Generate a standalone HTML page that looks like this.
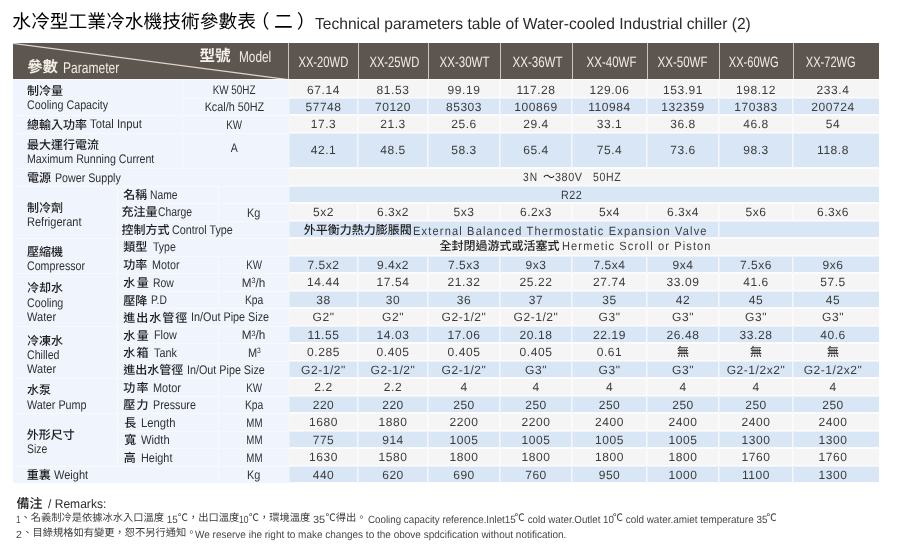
<!DOCTYPE html>
<html lang="zh-Hant">
<head>
<meta charset="utf-8">
<title>水冷型工業冷水機技術參數表（二） Technical parameters table of Water-cooled Industrial chiller (2)</title>
<style>
html,body{margin:0;padding:0;background:#fff;}
body{width:900px;height:551px;overflow:hidden;font-family:"Liberation Sans","Noto Sans CJK TC",sans-serif;color:#3a3a3a;text-rendering:geometricPrecision;}
#page{position:relative;width:900px;height:551px;overflow:hidden;background:#fff;will-change:transform;}
.cj{display:inline-block;position:relative;vertical-align:-0.12em;line-height:1;overflow:visible;font-family:"Liberation Sans","Noto Sans CJK TC",sans-serif;}
.cj .tx{position:absolute;left:0;top:0.03em;width:100%;height:100%;color:inherit;white-space:nowrap;overflow:visible;line-height:1;}
.en{display:inline-block;white-space:pre;}
.gp{display:inline-block;}
sup{font-size:62%;vertical-align:0;position:relative;top:-0.42em;line-height:0;}
.title{position:absolute;left:12.2px;top:12.4px;margin:0;font-weight:normal;font-size:16px;line-height:22px;white-space:nowrap;color:#2a2a2a;}
.title .cj{color:#000;}
table.spec{position:absolute;left:13px;top:43px;width:866px;border-collapse:separate;border-spacing:0;table-layout:fixed;}
td,th{padding:0;margin:0;font-weight:normal;text-align:left;vertical-align:middle;overflow:visible;white-space:nowrap;position:relative;box-sizing:border-box;}
tr.hd{height:36px;}
th{background:#5d5650;color:#f1ebe4;height:36px;}
th.hx{text-align:center;border-left:1px solid #cbc3bb;font-size:15px;}
th.hx:nth-child(2){border-left:none;}
th.h0{border-right:1px solid #cbc3bb;}
th.hx .en{position:relative;top:1px;}
th.h0 .diag{position:absolute;left:0;top:0;}
th.h0 .hp{position:absolute;left:14.2px;top:16.1px;line-height:18px;}
th.h0 .hm{position:absolute;left:186.6px;top:5.4px;line-height:18px;}
th .cj{color:#f4efe9;font-weight:bold;}
td.lb,td.sb,td.un{background:#eff4fd;color:#303030;}
td.lb .cj,td.sb .cj,.mx .cj{color:#1c1c1c;font-weight:500;}
td.d .cj{font-weight:500;}
td.lb,td.sb{border-top:1px solid #f6f9fe;}
td.sb{border-left:1px solid #f8fafe;}
td.un{border-left:1px solid #f6f9fe;border-top:1px solid #f6f9fe;}
td.d{text-align:center;font-size:12px;letter-spacing:0.55px;color:#3c3c3c;}
td.d .cj{letter-spacing:0;}
tr.w td.d{background:#f5f5f5;border-top:1px solid #fdfdfd;border-bottom:1px solid #fcfcfc;border-left:1px solid #f9f9f9;border-right:1px solid #fcfcfc;}
tr.b td.d{background:#d9e6f6;border-top:1px solid #eef3fa;border-bottom:1px solid #fafcfe;border-left:1px solid #e8eff9;border-right:1px solid #f3f7fc;}
td.d.sp{border-left-color:transparent;}
tbody tr td.d:last-child{border-right:none;}
td.d:last-child:not(.sp){padding-right:7px;}
.l2{position:absolute;font-size:12.5px;}
.l2 .a{height:12px;line-height:0;}
.l2 .a .cj{display:block;vertical-align:top;}
.l2 .b{height:14.2px;line-height:14.2px;}
.l2 .a + .b{margin-top:1.5px;}
.l1{position:absolute;font-size:12.5px;line-height:14px;height:14px;}
.l1 .lo{position:relative;top:-0.4px;}
.u{position:relative;text-align:center;font-size:12.5px;line-height:14px;height:14px;}
.n{position:relative;line-height:14px;height:14px;}
.n.mx{text-align:left;letter-spacing:0;}
.notes{color:#444;}
.rm{position:absolute;left:16.4px;top:496.4px;line-height:16px;height:16px;font-size:12.5px;color:#2e2e2e;white-space:nowrap;}
.rm .cj{color:#1a1a1a;font-weight:500;}
.nl{position:absolute;left:16.3px;margin:0;font-size:10.5px;line-height:14px;height:14px;white-space:nowrap;color:#474747;}
.nl .cj{color:#3a3a3a;}
.nl .ne{position:relative;top:0.5px;}

</style>
</head>
<body>
<div id="page">
<h1 class="title"><span class="cj" style="width:244.59px;height:18.75px;font-size:18.75px;"><span class="tx">水冷型工業冷水機技術參數表</span></span><span class="cj" style="width:18.75px;height:18.75px;font-size:18.75px;margin-left:-6px"><span class="tx">（</span></span><span class="cj" style="width:18.75px;height:18.75px;font-size:18.75px;margin-left:4.4px"><span class="tx">二</span></span><span class="cj" style="width:18.75px;height:18.75px;font-size:18.75px;margin-left:4.2px;margin-right:-0.65px"><span class="tx">）</span></span><span class="en te" style="font-size:16px;transform:scaleX(0.9736);transform-origin:left center;margin-right:-11.81px;">Technical parameters table of Water-cooled Industrial chiller (2)</span></h1>
<table class="spec">
<colgroup><col style="width:104px"><col style="width:65px"><col style="width:36px"><col style="width:71px"><col style="width:69px"><col style="width:70px"><col style="width:72px"><col style="width:72px"><col style="width:75px"><col style="width:72px"><col style="width:74px"><col style="width:86px"></colgroup>
<thead>
<tr class="hd"><th class="h0" colspan="4"><svg class="diag" width="276" height="36" viewBox="0 0 276 36" aria-hidden="true"><path d="M0 0.4 L275 36.6" stroke="#ded6ce" stroke-width="1.25" fill="none"/></svg><div class="hp"><span class="cj" style="width:30.60px;height:15.3px;font-size:15.3px;"><span class="tx">參數</span></span><span class="gp" style="width:5.50px"></span><span class="en" style="font-size:15.5px;transform:scaleX(0.7766);transform-origin:left center;margin-right:-16.16px;">Parameter</span></div><div class="hm"><span class="cj" style="width:31.00px;height:15.5px;font-size:15.5px;"><span class="tx">型號</span></span><span class="gp" style="width:8.20px"></span><span class="en" style="font-size:15.5px;transform:scaleX(0.7627);transform-origin:left center;margin-right:-10.02px;">Model</span></div></th><th class="hx"><span class="en" style="font-size:15px;transform:scaleX(0.7483);transform-origin:center center;margin-left:-8.39px;margin-right:-8.39px;left:0px;">XX-20WD</span></th><th class="hx"><span class="en" style="font-size:15px;transform:scaleX(0.7483);transform-origin:center center;margin-left:-8.39px;margin-right:-8.39px;left:1.2px;">XX-25WD</span></th><th class="hx"><span class="en" style="font-size:15px;transform:scaleX(0.7675);transform-origin:center center;margin-left:-7.56px;margin-right:-7.56px;left:0px;">XX-30WT</span></th><th class="hx"><span class="en" style="font-size:15px;transform:scaleX(0.7675);transform-origin:center center;margin-left:-7.56px;margin-right:-7.56px;left:0.7px;">XX-36WT</span></th><th class="hx"><span class="en" style="font-size:15px;transform:scaleX(0.7675);transform-origin:center center;margin-left:-7.56px;margin-right:-7.56px;left:1.8px;">XX-40WF</span></th><th class="hx"><span class="en" style="font-size:15px;transform:scaleX(0.7675);transform-origin:center center;margin-left:-7.56px;margin-right:-7.56px;left:-0.8px;">XX-50WF</span></th><th class="hx"><span class="en" style="font-size:15px;transform:scaleX(0.7391);transform-origin:center center;margin-left:-8.81px;margin-right:-8.81px;left:-2.5px;">XX-60WG</span></th><th class="hx"><span class="en" style="font-size:15px;transform:scaleX(0.7391);transform-origin:center center;margin-left:-8.81px;margin-right:-8.81px;left:-5.5px;">XX-72WG</span></th></tr>
</thead>
<tbody>
<tr class="w" style="height:19px"><td class="lb" colspan="2" rowspan="2"><div class="l2" style="left:13.95px;top:4.20px"><div class="a"><span class="cj" style="width:36.20px;height:12px;font-size:12px;"><span class="tx">制冷量</span></span></div><div class="b"><span class="en" style="font-size:12.5px;transform:scaleX(0.8593);transform-origin:left center;margin-right:-13.30px;">Cooling Capacity</span></div></div></td><td class="un" colspan="2"><div class="u" style="left:-1.5px;top:0.5px;"><span class="en" style="font-size:12.5px;transform:scaleX(0.7900);transform-origin:center center;margin-left:-5.69px;margin-right:-5.69px;">KW 50HZ</span></div></td><td class="d"><div class="n" style="top:1px">67.14</div></td><td class="d"><div class="n" style="top:1px">81.53</div></td><td class="d"><div class="n" style="top:1px">99.19</div></td><td class="d"><div class="n" style="top:1px">117.28</div></td><td class="d"><div class="n" style="top:1px">129.06</div></td><td class="d"><div class="n" style="top:1px">153.91</div></td><td class="d"><div class="n" style="top:1px">198.12</div></td><td class="d"><div class="n" style="top:1px">233.4</div></td></tr>
<tr class="b" style="height:17px"><td class="un" colspan="2"><div class="u" style="left:-1.5px;top:0.0px;"><span class="en" style="font-size:12.5px;transform:scaleX(0.8650);transform-origin:center center;margin-left:-4.64px;margin-right:-4.64px;">Kcal/h 50HZ</span></div></td><td class="d"><div class="n" style="top:0.4px">57748</div></td><td class="d"><div class="n" style="top:0.4px">70120</div></td><td class="d"><div class="n" style="top:0.4px">85303</div></td><td class="d"><div class="n" style="top:0.4px">100869</div></td><td class="d"><div class="n" style="top:0.4px">110984</div></td><td class="d"><div class="n" style="top:0.4px">132359</div></td><td class="d"><div class="n" style="top:0.4px">170383</div></td><td class="d"><div class="n" style="top:0.4px">200724</div></td></tr>
<tr class="w" style="height:18px"><td class="lb" colspan="2"><div class="l1" style="left:13.95px;top:1.73px"><span class="cj" style="width:60.20px;height:12px;font-size:12px;"><span class="tx">總輸入功率</span></span><span class="gp" style="width:2.65px"></span><span class="en lo" style="font-size:12.5px;transform:scaleX(0.9015);transform-origin:left center;margin-right:-5.68px;">Total Input</span></div></td><td class="un" colspan="2"><div class="u" style="left:-1.5px;top:0.0px;"><span class="en" style="font-size:12.5px;transform:scaleX(0.7847);transform-origin:center center;margin-left:-2.17px;margin-right:-2.17px;">KW</span></div></td><td class="d"><div class="n" style="top:-0.4px">17.3</div></td><td class="d"><div class="n" style="top:-0.4px">21.3</div></td><td class="d"><div class="n" style="top:-0.4px">25.6</div></td><td class="d"><div class="n" style="top:-0.4px">29.4</div></td><td class="d"><div class="n" style="top:-0.4px">33.1</div></td><td class="d"><div class="n" style="top:-0.4px">36.8</div></td><td class="d"><div class="n" style="top:-0.4px">46.8</div></td><td class="d"><div class="n" style="top:-0.4px">54</div></td></tr>
<tr class="b" style="height:35px"><td class="lb" colspan="2"><div class="l2" style="left:13.95px;top:4.80px"><div class="a"><span class="cj" style="width:72.50px;height:12px;font-size:12px;"><span class="tx">最大運行電流</span></span></div><div class="b"><span class="en" style="font-size:12.5px;transform:scaleX(0.8523);transform-origin:left center;margin-right:-22.06px;">Maximum Running Current</span></div></div></td><td class="un" colspan="2"><div class="u" style="left:-2px;top:-3px;"><span class="en" style="font-size:12.5px;transform:scaleX(0.8395);transform-origin:center center;margin-left:-0.67px;margin-right:-0.67px;">A</span></div></td><td class="d"><div class="n" style="top:-0.6px">42.1</div></td><td class="d"><div class="n" style="top:-0.6px">48.5</div></td><td class="d"><div class="n" style="top:-0.6px">58.3</div></td><td class="d"><div class="n" style="top:-0.6px">65.4</div></td><td class="d"><div class="n" style="top:-0.6px">75.4</div></td><td class="d"><div class="n" style="top:-0.6px">73.6</div></td><td class="d"><div class="n" style="top:-0.6px">98.3</div></td><td class="d"><div class="n" style="top:-0.6px">118.8</div></td></tr>
<tr class="w" style="height:18px"><td class="lb" colspan="4"><div class="l1" style="left:13.95px;top:2.23px"><span class="cj" style="width:24.30px;height:12px;font-size:12px;"><span class="tx">電源</span></span><span class="gp" style="width:3.85px"></span><span class="en lo" style="font-size:12.5px;transform:scaleX(0.8531);transform-origin:left center;margin-right:-11.33px;">Power Supply</span></div></td><td class="d sp" colspan="8"><div class="n mx" style="padding-left:232.50px"><span class="en " style="font-size:12px;letter-spacing:1.366px;transform:scaleX(0.8500);transform-origin:left center;margin-right:-3.87px;">3N</span><span class="gp" style="width:6.20px"></span><span class="cj" style="width:12.00px;height:12px;font-size:12px;font-weight:normal;"><span class="tx">～</span></span><span class="gp" style="width:0.00px"></span><span class="en " style="font-size:12px;letter-spacing:0.658px;transform:scaleX(0.9000);transform-origin:left center;margin-right:-3.66px;">380V</span><span class="gp" style="width:10.80px"></span><span class="en " style="font-size:12px;letter-spacing:0.749px;transform:scaleX(0.8800);transform-origin:left center;margin-right:-4.54px;">50HZ</span></div></td></tr>
<tr class="b" style="height:17px"><td class="lb g" rowspan="3"><div class="l2" style="left:13.95px;top:14.50px"><div class="a"><span class="cj" style="width:36.50px;height:12px;font-size:12px;"><span class="tx">制冷劑</span></span></div><div class="b"><span class="en" style="font-size:12.5px;transform:scaleX(0.8814);transform-origin:left center;margin-right:-7.34px;">Refrigerant</span></div></div></td><td class="sb" colspan="2"><div class="l1" style="left:5.15px;top:1.03px"><span class="cj" style="width:24.30px;height:12px;font-size:12px;"><span class="tx">名稱</span></span><span class="gp" style="width:2.65px"></span><span class="en lo" style="font-size:12.5px;transform:scaleX(0.8247);transform-origin:left center;margin-right:-5.84px;">Name</span></div></td><td class="un"></td><td class="d sp" colspan="8"><div class="n mx" style="padding-left:271.10px"><span class="en " style="font-size:12px;letter-spacing:0.548px;transform:scaleX(0.9000);transform-origin:left center;margin-right:-2.86px;">R22</span></div></td></tr>
<tr class="w" style="height:18px"><td class="sb" colspan="2"><div class="l1" style="left:3.45px;top:1.63px"><span class="cj" style="width:36.50px;height:12px;font-size:12px;"><span class="tx">充注量</span></span><span class="gp" style="width:-0.65px"></span><span class="en lo" style="font-size:12.5px;transform:scaleX(0.8317);transform-origin:left center;margin-right:-6.90px;">Charge</span></div></td><td class="un"><div class="u" style=""><span class="en" style="font-size:12.5px;transform:scaleX(0.8698);transform-origin:center center;margin-left:-1.00px;margin-right:-1.00px;">Kg</span></div></td><td class="d"><div class="n">5x2</div></td><td class="d"><div class="n">6.3x2</div></td><td class="d"><div class="n">5x3</div></td><td class="d"><div class="n">6.2x3</div></td><td class="d"><div class="n">5x4</div></td><td class="d"><div class="n">6.3x4</div></td><td class="d"><div class="n">5x6</div></td><td class="d"><div class="n">6.3x6</div></td></tr>
<tr class="b" style="height:17px"><td class="sb" colspan="3"><div class="l1" style="left:3.45px;top:1.63px"><span class="cj" style="width:48.20px;height:12px;font-size:12px;"><span class="tx">控制方式</span></span><span class="gp" style="width:2.15px"></span><span class="en lo" style="font-size:12.5px;transform:scaleX(0.8606);transform-origin:left center;margin-right:-9.84px;">Control Type</span></div></td><td class="d sp" colspan="6"><div class="n mx" style="top:1px;padding-left:13.75px"><span class="cj" style="width:106.40px;height:12px;font-size:12px;"><span class="tx">外平衡力熱力膨脹閥</span></span><span class="gp" style="width:3.30px"></span><span class="en " style="font-size:12px;letter-spacing:1.274px;transform:scaleX(0.9200);transform-origin:left center;margin-right:-26.80px;">External Balanced Thermostatic Expansion Valve</span></div></td><td class="d sp" colspan="2"></td></tr>
<tr class="w" style="height:18px"><td class="lb g" rowspan="2"><div class="l2" style="left:13.95px;top:6.30px"><div class="a"><span class="cj" style="width:36.50px;height:12px;font-size:12px;"><span class="tx">壓縮機</span></span></div><div class="b"><span class="en" style="font-size:12.5px;transform:scaleX(0.8520);transform-origin:left center;margin-right:-10.08px;">Compressor</span></div></div></td><td class="sb" colspan="3"><div class="l1" style="left:5.15px;top:0.93px"><span class="cj" style="width:24.80px;height:12px;font-size:12px;"><span class="tx">類型</span></span><span class="gp" style="width:4.65px"></span><span class="en lo" style="font-size:12.5px;transform:scaleX(0.8413);transform-origin:left center;margin-right:-4.30px;">Type</span></div></td><td class="d sp" colspan="8"><div class="n mx" style="top:-0.7px;padding-left:149.45px"><span class="cj" style="width:118.20px;height:12px;font-size:12px;"><span class="tx">全封閉過游式或活塞式</span></span><span class="gp" style="width:4.80px"></span><span class="en " style="font-size:12px;letter-spacing:1.224px;transform:scaleX(0.9200);transform-origin:left center;margin-right:-14.14px;">Hermetic Scroll or Piston</span></div></td></tr>
<tr class="b" style="height:17px"><td class="sb" colspan="2"><div class="l1" style="left:5.15px;top:1.33px"><span class="cj" style="width:24.30px;height:12px;font-size:12px;"><span class="tx">功率</span></span><span class="gp" style="width:4.35px"></span><span class="en lo" style="font-size:12.5px;transform:scaleX(0.8606);transform-origin:left center;margin-right:-4.45px;">Motor</span></div></td><td class="un"><div class="u" style=""><span class="en" style="font-size:12.5px;transform:scaleX(0.7847);transform-origin:center center;margin-left:-2.17px;margin-right:-2.17px;">KW</span></div></td><td class="d"><div class="n">7.5x2</div></td><td class="d"><div class="n">9.4x2</div></td><td class="d"><div class="n">7.5x3</div></td><td class="d"><div class="n">9x3</div></td><td class="d"><div class="n">7.5x4</div></td><td class="d"><div class="n">9x4</div></td><td class="d"><div class="n">7.5x6</div></td><td class="d"><div class="n">9x6</div></td></tr>
<tr class="w" style="height:18px"><td class="lb g" rowspan="3"><div class="l2" style="left:13.95px;top:8.00px"><div class="a"><span class="cj" style="width:36.00px;height:12px;font-size:12px;"><span class="tx">冷却水</span></span></div><div class="b"><span class="en" style="font-size:12.5px;transform:scaleX(0.8563);transform-origin:left center;margin-right:-6.09px;">Cooling</span></div><div class="b"><span class="en" style="font-size:12.5px;transform:scaleX(0.8852);transform-origin:left center;margin-right:-3.77px;">Water</span></div></div></td><td class="sb" colspan="2"><div class="l1" style="left:5.15px;top:2.13px"><span class="cj" style="width:25.60px;height:12px;font-size:12px;letter-spacing:1.6px;"><span class="tx">水量</span></span><span class="gp" style="width:4.75px"></span><span class="en lo" style="font-size:12.5px;transform:scaleX(0.8318);transform-origin:left center;margin-right:-4.21px;">Row</span></div></td><td class="un"><div class="u" style=""><span class="en" style="font-size:12.5px;transform:scaleX(0.9384);transform-origin:center center;margin-left:-0.77px;margin-right:-0.77px;">M<sup>3</sup>/h</span></div></td><td class="d"><div class="n">14.44</div></td><td class="d"><div class="n">17.54</div></td><td class="d"><div class="n">21.32</div></td><td class="d"><div class="n">25.22</div></td><td class="d"><div class="n">27.74</div></td><td class="d"><div class="n">33.09</div></td><td class="d"><div class="n">41.6</div></td><td class="d"><div class="n">57.5</div></td></tr>
<tr class="b" style="height:17px"><td class="sb" colspan="2"><div class="l1" style="left:5.15px;top:1.83px"><span class="cj" style="width:24.30px;height:12px;font-size:12px;"><span class="tx">壓降</span></span><span class="gp" style="width:3.85px"></span><span class="en lo" style="font-size:12.5px;transform:scaleX(0.8218);transform-origin:left center;margin-right:-3.43px;">P.D</span></div></td><td class="un"><div class="u" style=""><span class="en" style="font-size:12.5px;transform:scaleX(0.8228);transform-origin:center center;margin-left:-1.97px;margin-right:-1.97px;">Kpa</span></div></td><td class="d"><div class="n">38</div></td><td class="d"><div class="n">30</div></td><td class="d"><div class="n">36</div></td><td class="d"><div class="n">37</div></td><td class="d"><div class="n">35</div></td><td class="d"><div class="n">42</div></td><td class="d"><div class="n">45</div></td><td class="d"><div class="n">45</div></td></tr>
<tr class="w" style="height:18px"><td class="sb" colspan="3"><div class="l1" style="left:5.15px;top:1.83px"><span class="cj" style="width:64.00px;height:12px;font-size:12px;letter-spacing:1px;"><span class="tx">進出水管徑</span></span><span class="gp" style="width:3.85px"></span><span class="en lo" style="font-size:12.5px;transform:scaleX(0.8646);transform-origin:left center;margin-right:-12.23px;">In/Out Pipe Size</span></div></td><td class="d"><div class="n">G2&quot;</div></td><td class="d"><div class="n">G2&quot;</div></td><td class="d"><div class="n">G2-1/2&quot;</div></td><td class="d"><div class="n">G2-1/2&quot;</div></td><td class="d"><div class="n">G3&quot;</div></td><td class="d"><div class="n">G3&quot;</div></td><td class="d"><div class="n">G3&quot;</div></td><td class="d"><div class="n">G3&quot;</div></td></tr>
<tr class="b" style="height:17px"><td class="lb g" rowspan="3"><div class="l2" style="left:13.95px;top:7.50px"><div class="a"><span class="cj" style="width:36.50px;height:12px;font-size:12px;"><span class="tx">冷凍水</span></span></div><div class="b"><span class="en" style="font-size:12.5px;transform:scaleX(0.8504);transform-origin:left center;margin-right:-5.72px;">Chilled</span></div><div class="b"><span class="en" style="font-size:12.5px;transform:scaleX(0.8852);transform-origin:left center;margin-right:-3.77px;">Water</span></div></div></td><td class="sb" colspan="2"><div class="l1" style="left:5.15px;top:1.83px"><span class="cj" style="width:25.60px;height:12px;font-size:12px;letter-spacing:1.6px;"><span class="tx">水量</span></span><span class="gp" style="width:5.25px"></span><span class="en lo" style="font-size:12.5px;transform:scaleX(0.8639);transform-origin:left center;margin-right:-3.59px;">Flow</span></div></td><td class="un"><div class="u" style=""><span class="en" style="font-size:12.5px;transform:scaleX(0.9384);transform-origin:center center;margin-left:-0.77px;margin-right:-0.77px;">M<sup>3</sup>/h</span></div></td><td class="d"><div class="n">11.55</div></td><td class="d"><div class="n">14.03</div></td><td class="d"><div class="n">17.06</div></td><td class="d"><div class="n">20.18</div></td><td class="d"><div class="n">22.19</div></td><td class="d"><div class="n">26.48</div></td><td class="d"><div class="n">33.28</div></td><td class="d"><div class="n">40.6</div></td></tr>
<tr class="w" style="height:18px"><td class="sb" colspan="2"><div class="l1" style="left:5.15px;top:2.13px"><span class="cj" style="width:25.30px;height:12px;font-size:12px;letter-spacing:1.3px;"><span class="tx">水箱</span></span><span class="gp" style="width:5.55px"></span><span class="en lo" style="font-size:12.5px;transform:scaleX(0.8635);transform-origin:left center;margin-right:-3.60px;">Tank</span></div></td><td class="un"><div class="u" style=""><span class="en" style="font-size:12.5px;transform:scaleX(0.8762);transform-origin:center center;margin-left:-0.91px;margin-right:-0.91px;">M<sup>3</sup></span></div></td><td class="d"><div class="n">0.285</div></td><td class="d"><div class="n">0.405</div></td><td class="d"><div class="n">0.405</div></td><td class="d"><div class="n">0.405</div></td><td class="d"><div class="n">0.61</div></td><td class="d"><div class="n"><span class="cj" style="width:12.00px;height:12px;font-size:12px;"><span class="tx">無</span></span></div></td><td class="d"><div class="n"><span class="cj" style="width:12.00px;height:12px;font-size:12px;"><span class="tx">無</span></span></div></td><td class="d"><div class="n"><span class="cj" style="width:12.00px;height:12px;font-size:12px;"><span class="tx">無</span></span></div></td></tr>
<tr class="b" style="height:17px"><td class="sb" colspan="3"><div class="l1" style="left:5.15px;top:1.33px"><span class="cj" style="width:60.30px;height:12px;font-size:12px;"><span class="tx">進出水管徑</span></span><span class="gp" style="width:3.85px"></span><span class="en lo" style="font-size:12.5px;transform:scaleX(0.8613);transform-origin:left center;margin-right:-12.53px;">In/Out Pipe Size</span></div></td><td class="d"><div class="n">G2-1/2&quot;</div></td><td class="d"><div class="n">G2-1/2&quot;</div></td><td class="d"><div class="n">G2-1/2&quot;</div></td><td class="d"><div class="n">G3&quot;</div></td><td class="d"><div class="n">G3&quot;</div></td><td class="d"><div class="n">G3&quot;</div></td><td class="d"><div class="n">G2-1/2x2&quot;</div></td><td class="d"><div class="n">G2-1/2x2&quot;</div></td></tr>
<tr class="w" style="height:18px"><td class="lb g" rowspan="2"><div class="l2" style="left:13.95px;top:5.00px"><div class="a"><span class="cj" style="width:24.30px;height:12px;font-size:12px;"><span class="tx">水泵</span></span></div><div class="b"><span class="en" style="font-size:12.5px;transform:scaleX(0.8637);transform-origin:left center;margin-right:-9.40px;">Water Pump</span></div></div></td><td class="sb" colspan="2"><div class="l1" style="left:5.15px;top:1.93px"><span class="cj" style="width:25.30px;height:12px;font-size:12px;letter-spacing:1.3px;"><span class="tx">功率</span></span><span class="gp" style="width:4.55px"></span><span class="en lo" style="font-size:12.5px;transform:scaleX(0.8732);transform-origin:left center;margin-right:-4.05px;">Motor</span></div></td><td class="un"><div class="u" style=""><span class="en" style="font-size:12.5px;transform:scaleX(0.7847);transform-origin:center center;margin-left:-2.17px;margin-right:-2.17px;">KW</span></div></td><td class="d"><div class="n">2.2</div></td><td class="d"><div class="n">2.2</div></td><td class="d"><div class="n">4</div></td><td class="d"><div class="n">4</div></td><td class="d"><div class="n">4</div></td><td class="d"><div class="n">4</div></td><td class="d"><div class="n">4</div></td><td class="d"><div class="n">4</div></td></tr>
<tr class="b" style="height:17px"><td class="sb" colspan="2"><div class="l1" style="left:5.15px;top:1.33px"><span class="cj" style="width:25.30px;height:12px;font-size:12px;letter-spacing:1.3px;"><span class="tx">壓力</span></span><span class="gp" style="width:4.55px"></span><span class="en lo" style="font-size:12.5px;transform:scaleX(0.8576);transform-origin:left center;margin-right:-7.12px;">Pressure</span></div></td><td class="un"><div class="u" style=""><span class="en" style="font-size:12.5px;transform:scaleX(0.8228);transform-origin:center center;margin-left:-1.97px;margin-right:-1.97px;">Kpa</span></div></td><td class="d"><div class="n">220</div></td><td class="d"><div class="n">220</div></td><td class="d"><div class="n">250</div></td><td class="d"><div class="n">250</div></td><td class="d"><div class="n">250</div></td><td class="d"><div class="n">250</div></td><td class="d"><div class="n">250</div></td><td class="d"><div class="n">250</div></td></tr>
<tr class="w" style="height:18px"><td class="lb g" rowspan="3"><div class="l2" style="left:13.75px;top:14.80px"><div class="a"><span class="cj" style="width:47.70px;height:12px;font-size:12px;"><span class="tx">外形尺寸</span></span></div><div class="b"><span class="en" style="font-size:12.5px;transform:scaleX(0.8307);transform-origin:left center;margin-right:-4.12px;">Size</span></div></div></td><td class="sb" colspan="2"><div class="l1" style="left:6.15px;top:2.13px"><span class="cj" style="width:12.00px;height:12px;font-size:12px;"><span class="tx">長</span></span><span class="gp" style="width:4.45px"></span><span class="en lo" style="font-size:12.5px;transform:scaleX(0.9024);transform-origin:left center;margin-right:-3.73px;">Length</span></div></td><td class="un"><div class="u" style=""><span class="en" style="font-size:12.5px;transform:scaleX(0.7731);transform-origin:center center;margin-left:-2.36px;margin-right:-2.36px;">MM</span></div></td><td class="d"><div class="n">1680</div></td><td class="d"><div class="n">1880</div></td><td class="d"><div class="n">2200</div></td><td class="d"><div class="n">2200</div></td><td class="d"><div class="n">2400</div></td><td class="d"><div class="n">2400</div></td><td class="d"><div class="n">2400</div></td><td class="d"><div class="n">2400</div></td></tr>
<tr class="b" style="height:17px"><td class="sb" colspan="2"><div class="l1" style="left:6.15px;top:1.33px"><span class="cj" style="width:12.00px;height:12px;font-size:12px;"><span class="tx">寬</span></span><span class="gp" style="width:4.45px"></span><span class="en lo" style="font-size:12.5px;transform:scaleX(0.8982);transform-origin:left center;margin-right:-3.25px;">Width</span></div></td><td class="un"><div class="u" style=""><span class="en" style="font-size:12.5px;transform:scaleX(0.7731);transform-origin:center center;margin-left:-2.36px;margin-right:-2.36px;">MM</span></div></td><td class="d"><div class="n">775</div></td><td class="d"><div class="n">914</div></td><td class="d"><div class="n">1005</div></td><td class="d"><div class="n">1005</div></td><td class="d"><div class="n">1005</div></td><td class="d"><div class="n">1005</div></td><td class="d"><div class="n">1300</div></td><td class="d"><div class="n">1300</div></td></tr>
<tr class="w" style="height:18px"><td class="sb" colspan="2"><div class="l1" style="left:5.75px;top:1.93px"><span class="cj" style="width:12.00px;height:12px;font-size:12px;"><span class="tx">高</span></span><span class="gp" style="width:5.25px"></span><span class="en lo" style="font-size:12.5px;transform:scaleX(0.8690);transform-origin:left center;margin-right:-4.73px;">Height</span></div></td><td class="un"><div class="u" style=""><span class="en" style="font-size:12.5px;transform:scaleX(0.7731);transform-origin:center center;margin-left:-2.36px;margin-right:-2.36px;">MM</span></div></td><td class="d"><div class="n">1630</div></td><td class="d"><div class="n">1580</div></td><td class="d"><div class="n">1800</div></td><td class="d"><div class="n">1800</div></td><td class="d"><div class="n">1800</div></td><td class="d"><div class="n">1800</div></td><td class="d"><div class="n">1760</div></td><td class="d"><div class="n">1760</div></td></tr>
<tr class="b" style="height:17px"><td class="lb" colspan="3"><div class="l1" style="left:13.75px;top:1.43px"><span class="cj" style="width:24.40px;height:12px;font-size:12px;"><span class="tx">重裏</span></span><span class="gp" style="width:3.15px"></span><span class="en lo" style="font-size:12.5px;transform:scaleX(0.8816);transform-origin:left center;margin-right:-4.58px;">Weight</span></div></td><td class="un"><div class="u" style=""><span class="en" style="font-size:12.5px;transform:scaleX(0.8698);transform-origin:center center;margin-left:-1.00px;margin-right:-1.00px;">Kg</span></div></td><td class="d"><div class="n">440</div></td><td class="d"><div class="n">620</div></td><td class="d"><div class="n">690</div></td><td class="d"><div class="n">760</div></td><td class="d"><div class="n">950</div></td><td class="d"><div class="n">1000</div></td><td class="d"><div class="n">1100</div></td><td class="d"><div class="n">1300</div></td></tr>
</tbody>
</table>
<div class="notes">
<div class="rm"><span class="cj" style="width:26.00px;height:13px;font-size:13px;"><span class="tx">備注</span></span><span class="gp" style="width:5.90px"></span><span class="en" style="font-size:12.5px;transform:scaleX(0.9648);transform-origin:left center;margin-right:-2.13px;">/ Remarks:</span></div>
<p class="nl" style="top:512.6px"><span class="en ne" style="font-size:10.5px;transform:scaleX(0.7877);transform-origin:left center;margin-right:-1.24px;">1</span><span class="cj" style="width:143.50px;height:10.25px;font-size:10.25px;margin-left:-0.35px;"><span class="tx">、名義制冷是依據冰水入口溫度</span></span><span class="en ne" style="font-size:10.5px;transform:scaleX(0.9351);transform-origin:left center;margin-right:-0.95px;"> 15</span><span class="cj" style="width:61.50px;height:10.25px;font-size:10.25px;"><span class="tx">℃，出口溫度</span></span><span class="en ne" style="font-size:10.5px;transform:scaleX(0.8134);transform-origin:left center;margin-right:-2.18px;">10</span><span class="cj" style="width:61.50px;height:10.25px;font-size:10.25px;"><span class="tx">℃，環境溫度</span></span><span class="en ne" style="font-size:10.5px;transform:scaleX(1.0413);transform-origin:left center;margin-right:0.60px;"> 35</span><span class="cj" style="width:41.00px;height:10.25px;font-size:10.25px;"><span class="tx">℃得出。</span></span><span class="en ne" style="font-size:10.5px;transform:scaleX(0.9303);transform-origin:left center;margin-right:-11.06px;margin-left:1.2px;">Cooling capacity reference.Inlet15</span><span class="cj" style="width:10.25px;height:10.25px;font-size:10.25px;margin-left:-0.9px;"><span class="tx">℃</span></span><span class="en ne" style="font-size:10.5px;transform:scaleX(0.9293);transform-origin:left center;margin-right:-6.77px;"> cold water.Outlet 10</span><span class="cj" style="width:10.25px;height:10.25px;font-size:10.25px;margin-left:-0.9px;"><span class="tx">℃</span></span><span class="en ne" style="font-size:10.5px;transform:scaleX(0.9446);transform-origin:left center;margin-right:-8.47px;"> cold water.amiet temperature 35</span><span class="cj" style="width:10.25px;height:10.25px;font-size:10.25px;margin-left:-0.9px;"><span class="tx">℃</span></span></p>
<p class="nl" style="top:527.6px"><span class="en ne" style="font-size:10.5px;transform:scaleX(1.0103);transform-origin:left center;margin-right:0.06px;">2</span><span class="cj" style="width:175.85px;height:10.25px;font-size:10.25px;"><span class="tx">、目錄規格如有變更，恕不另行通知。</span></span><span class="en ne" style="font-size:10.5px;transform:scaleX(0.9516);transform-origin:left center;margin-right:-18.88px;margin-left:-2.55px;">We reserve ihe right to make changes to the obove spdcification without notification.</span></p>
</div>
</div>
</body>
</html>
